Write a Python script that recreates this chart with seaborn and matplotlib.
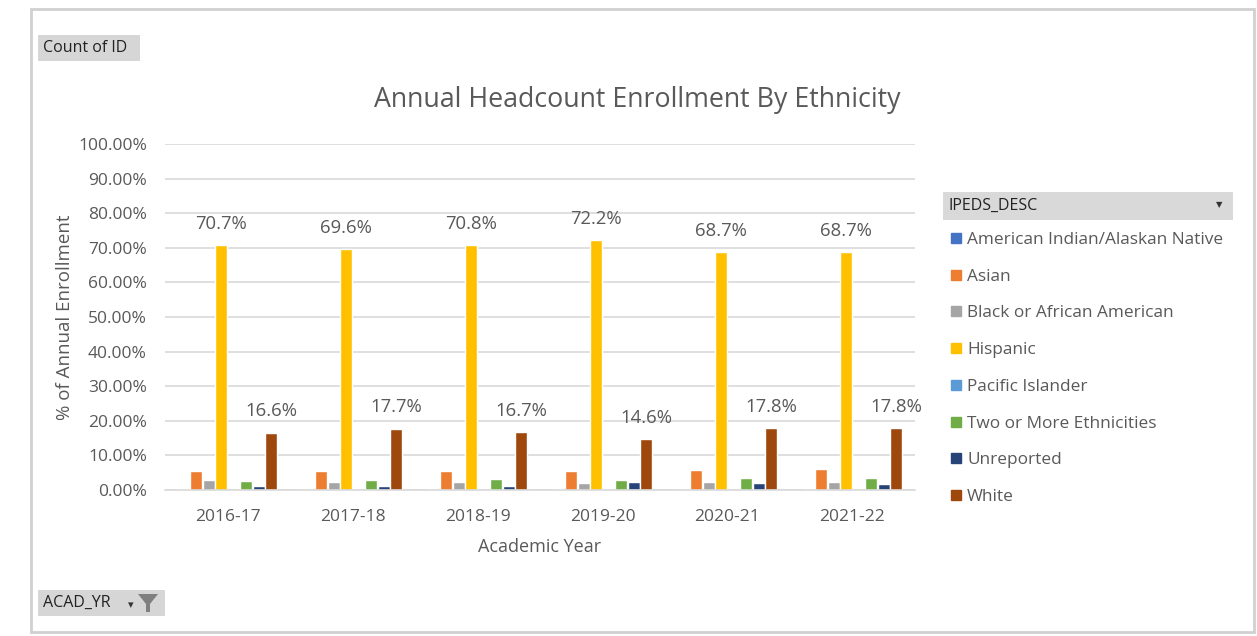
import matplotlib
matplotlib.use("Agg")
import matplotlib.pyplot as plt
import seaborn as sns
import pandas as pd
from matplotlib.ticker import PercentFormatter
from matplotlib.patches import Rectangle
from matplotlib.lines import Line2D

years = ["2016-17", "2017-18", "2018-19", "2019-20", "2020-21", "2021-22"]
ethnicities = ["American Indian/Alaskan Native", "Asian", "Black or African American",
               "Hispanic", "Pacific Islander", "Two or More Ethnicities", "Unreported", "White"]
colors = ["#4472C4", "#ED7D31", "#A5A5A5", "#FFC000", "#5B9BD5", "#70AD47", "#264478", "#9E480E"]

american_indian = [0.2, 0.2, 0.2, 0.2, 0.2, 0.2]
asian = [5.5, 5.5, 5.5, 5.5, 5.8, 6.1]
black = [2.9, 2.4, 2.2, 1.9, 2.2, 2.2]
hispanic = [70.7, 69.6, 70.8, 72.2, 68.7, 68.7]
pacific = [0.1, 0.1, 0.1, 0.1, 0.1, 0.1]
two_more = [2.6, 3.0, 3.1, 3.0, 3.4, 3.4]
unreported = [1.1, 1.1, 1.1, 2.2, 1.9, 1.6]
white = [16.6, 17.7, 16.7, 14.6, 17.8, 17.8]

series = [american_indian, asian, black, hispanic, pacific, two_more, unreported, white]
rows = []
for eth, vals in zip(ethnicities, series):
    for yr, v in zip(years, vals):
        rows.append({"ACAD_YR": yr, "IPEDS_DESC": eth, "pct": v / 100.0})
df = pd.DataFrame(rows)

sns.set_style("white")
FONT = ["Open Sans", "DejaVu Sans"]
plt.rcParams["font.family"] = FONT
GRAY = "#595959"

W, H = 1257, 636
fig = plt.figure(figsize=(W / 100, H / 100), dpi=100)
ax = fig.add_axes([165 / W, 1 - 490 / H, 750 / W, (490 - 144) / H])

sns.barplot(data=df, x="ACAD_YR", y="pct", hue="IPEDS_DESC", order=years,
            hue_order=ethnicities, palette=colors, width=0.8, gap=0.05,
            ax=ax, legend=False, saturation=1)

ax.set_ylim(0, 1.0)
ax.set_yticks([i / 10 for i in range(11)])
ax.yaxis.set_major_formatter(PercentFormatter(1.0, decimals=2))
ax.grid(axis="y", color="#D9D9D9", linewidth=1.2)
ax.set_axisbelow(True)
for s in ["top", "right", "left"]:
    ax.spines[s].set_visible(False)
ax.spines["bottom"].set_color("#D9D9D9")
ax.spines["bottom"].set_linewidth(1.2)
ax.tick_params(axis="both", length=0, colors=GRAY, labelsize=12.5)
ax.tick_params(axis="y", pad=13)
ax.tick_params(axis="x", pad=14)
ax.set_xlabel("Academic Year", color=GRAY, fontsize=13, labelpad=9)
ax.set_ylabel("% of Annual Enrollment", color=GRAY, fontsize=13.5, labelpad=3)

# data labels on Hispanic and White
for cont, eth in zip(ax.containers, ethnicities):
    if eth in ("Hispanic", "White"):
        ax.bar_label(cont, labels=[f"{b.get_height()*100:.1f}%" for b in cont],
                     padding=9, color=GRAY, fontsize=13.3)

fig.text(637 / W, 1 - 100 / H, "Annual Headcount Enrollment By Ethnicity",
         ha="center", va="center", fontsize=19.3, color=GRAY)

# legend
handles = [Line2D([0], [0], marker="s", linestyle="", markersize=7,
                  markerfacecolor=c, markeredgecolor=c) for c in colors]
leg = fig.legend(handles, ethnicities, loc="upper left",
                 bbox_to_anchor=(950 / W, 1 - 232 / H), frameon=False,
                 handlelength=0.7, handletextpad=0.3, labelspacing=1.2,
                 fontsize=12.4, borderaxespad=0, borderpad=0)
for t in leg.get_texts():
    t.set_color(GRAY)

# legend header button
fig.patches.append(Rectangle((943 / W, 1 - 220 / H), 290 / W, 28 / H,
                             transform=fig.transFigure, facecolor="#D9D9D9",
                             edgecolor="none"))
fig.text(949 / W, 1 - 206 / H, "IPEDS_DESC", ha="left", va="center",
         fontsize=11.5, color="#222222")
fig.text(1219 / W, 1 - 206 / H, "▼", ha="center", va="center",
         fontsize=6, color="#333333")

# field buttons
fig.patches.append(Rectangle((38 / W, 1 - 61 / H), 102 / W, 26 / H,
                             transform=fig.transFigure, facecolor="#D6D6D6",
                             edgecolor="none"))
fig.text(43 / W, 1 - 48 / H, "Count of ID", ha="left", va="center",
         fontsize=11.5, color="#222222")
fig.patches.append(Rectangle((38 / W, 1 - 616 / H), 127 / W, 26 / H,
                             transform=fig.transFigure, facecolor="#D6D6D6",
                             edgecolor="none"))
fig.text(43 / W, 1 - 603 / H, "ACAD_YR", ha="left", va="center",
         fontsize=11.5, color="#222222")
fig.text(131 / W, 1 - 606 / H, "▾", ha="center", va="center",
         fontsize=8, color="#333333")
fig.patches.append(plt.Polygon([(138 / W, 1 - 594 / H), (158 / W, 1 - 594 / H),
                                (150 / W, 1 - 604 / H), (150 / W, 1 - 612 / H),
                                (146 / W, 1 - 612 / H), (146 / W, 1 - 604 / H)],
                               closed=True, transform=fig.transFigure,
                               facecolor="#7F7F7F", edgecolor="none"))

# outer frame
fig.patches.append(Rectangle((31 / W, 1 - 632 / H), 1223 / W, 623 / H,
                             transform=fig.transFigure, facecolor="none",
                             edgecolor="#D0D0D0", linewidth=2))

fig.savefig("out.png", dpi=100)
